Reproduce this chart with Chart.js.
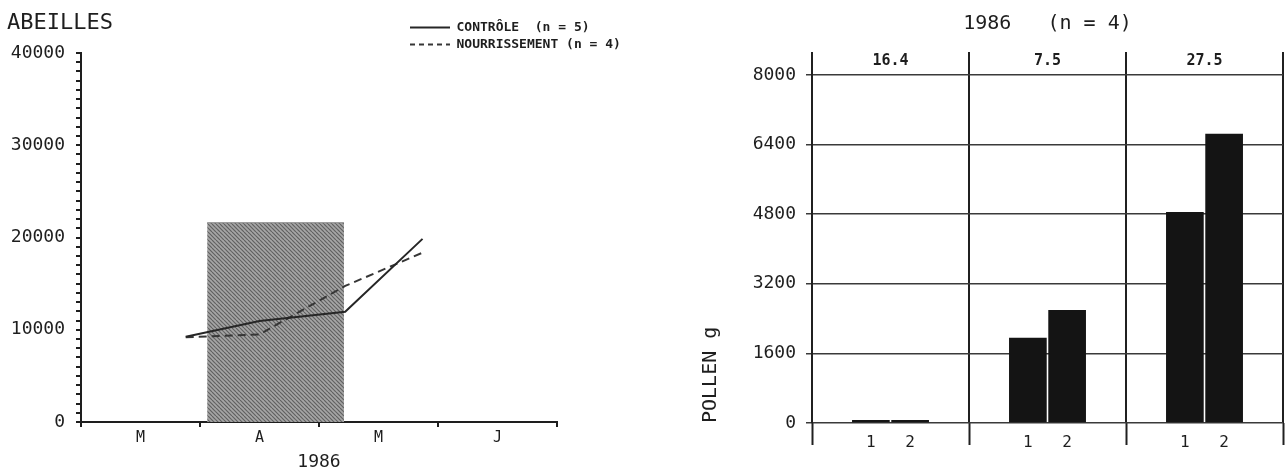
<!DOCTYPE html>
<html><head><meta charset="utf-8">
<script src="https://cdn.jsdelivr.net/npm/chart.js@4.4.1/dist/chart.umd.min.js"></script>
<style>
html,body{margin:0;padding:0;background:#fff;width:1286px;height:471px;overflow:hidden}
#wrap{position:relative;width:1286px;height:471px}
canvas{position:absolute}
#c1{left:0;top:0}
#c2{left:690px;top:0}
#leg{left:406px;top:17px}
</style></head><body>
<div id="wrap">
<canvas id="c1" width="650" height="471"></canvas>
<canvas id="c2" width="596" height="471"></canvas>
<canvas id="leg" width="240" height="44"></canvas>
</div>
<script>
// ---------- left chart : ABEILLES ----------
const monthLabels = ['M', 'A', 'M', 'J'];
const sampleMonths = [0.88, 1.5, 2.22, 2.87];        // months since 1 March
const controle = [9250, 10950, 11950, 19850];
const nourrissement = [9180, 9500, 14750, 18350];
const feedingPeriod = [1.06, 2.21];                  // start / end (months)
const feedingLevel = 21600;
const beeMajorTicks = [0, 10000, 20000, 30000, 40000];
const labelControle = 'CONTRÔLE  (n = 5)';
const labelNourr = 'NOURRISSEMENT (n = 4)';

// ---------- right chart : POLLEN ----------
const periodLabels = ['16.4', '7.5', '27.5'];
const pollen1 = [70, 1960, 4850];
const pollen2 = [70, 2600, 6650];
const barLabels = ['1', '2'];
const pollenTicks = [0, 1600, 3200, 4800, 6400, 8000];

const FONT = "'DejaVu Sans Mono', monospace";
const INK = '#1e1e1e';
Chart.defaults.font.family = FONT;
Chart.defaults.color = INK;

function hatch() {
  const c = document.createElement('canvas');
  c.width = 8; c.height = 8;
  const g = c.getContext('2d');
  g.fillStyle = '#a6a6a6'; g.fillRect(0, 0, 8, 8);
  g.strokeStyle = '#616161'; g.lineWidth = 1.2;
  for (let k = -8; k <= 8; k += 4) { g.beginPath(); g.moveTo(k, 0); g.lineTo(k + 8, 8); g.stroke(); }
  return g.createPattern(c, 'repeat');
}

const styleControle = { label: labelControle, borderColor: '#262626', borderWidth: 2 };
const styleNourr = { label: labelNourr, borderColor: '#363636', borderWidth: 2, borderDash: [8, 5] };
const pts = ys => ys.map((y, i) => ({ x: sampleMonths[i], y }));

new Chart(document.getElementById('c1'), {
  type: 'line',
  data: { datasets: [
    Object.assign({}, styleControle, { data: pts(controle), pointRadius: 0, fill: false, tension: 0 }),
    Object.assign({}, styleNourr, { data: pts(nourrissement), pointRadius: 0, fill: false, tension: 0 }),
    { label: 'periode', data: feedingPeriod.map(x => ({ x, y: feedingLevel })), borderColor: '#8a8a8a',
      borderWidth: 1, pointRadius: 0, fill: 'origin', backgroundColor: hatch() }
  ] },
  options: {
    responsive: false, animation: false, events: [],
    layout: { padding: { left: 7, right: 93, top: 0, bottom: 0 } },
    plugins: {
      legend: { display: false }, tooltip: { enabled: false },
      title: { display: true, text: 'ABEILLES', align: 'start', color: INK,
        font: { size: 22, weight: 'normal' }, padding: { top: 10, bottom: 16.6 } }
    },
    scales: {
      x: { type: 'linear', min: 0, max: 4, display: false },
      xm: { type: 'category', axis: 'x', position: 'bottom', labels: monthLabels, offset: true,
        grid: { offset: true, drawOnChartArea: false, tickLength: 5, color: INK, lineWidth: 2 },
        border: { display: true, color: INK, width: 2 },
        ticks: { font: { size: 15 }, padding: 2, color: INK, maxRotation: 0 },
        title: { display: true, text: '1986', color: INK, font: { size: 18, lineHeight: 1 }, padding: { top: 0, bottom: 0 } },
        afterFit: s => { s.height = 49; } },
      y: { min: 0, max: 40000,
        ticks: { stepSize: 1000, autoSkip: false, color: INK, font: { size: 18 }, padding: 11,
          callback: v => beeMajorTicks.includes(v) ? String(v) : '' },
        grid: { drawOnChartArea: false, tickLength: 5, color: INK, lineWidth: 2 },
        border: { color: INK, width: 2 },
        afterFit: s => { s.width = 74; } }
    }
  }
});

// legend (stacked, above the plot)
new Chart(document.getElementById('leg'), {
  type: 'line',
  data: { datasets: [ Object.assign({}, styleControle, { data: [] }), Object.assign({}, styleNourr, { data: [], borderDash: [5, 4] }) ] },
  options: {
    responsive: false, animation: false, events: [],
    layout: { padding: 0 },
    scales: { x: { display: false }, y: { display: false } },
    plugins: { tooltip: { enabled: false },
      legend: { position: 'chartArea', align: 'start',
        labels: { usePointStyle: true, pointStyleWidth: 40, padding: 4, color: INK,
          font: { size: 13, weight: 'bold' },
          generateLabels: ch => ch.data.datasets.map((ds, i) => ({
            text: ds.label, datasetIndex: i, pointStyle: 'line', fillStyle: 'rgba(0,0,0,0)',
            strokeStyle: ds.borderColor, lineWidth: ds.borderWidth, lineDash: ds.borderDash || [],
            fontColor: INK, hidden: false })) } } }
  }
});

// ---------- right chart ----------
const CAT_PCT = 0.5, BAR_PCT = 0.96;
const xbTicks = [], xbTickLabels = [];
periodLabels.forEach((_, i) => {
  xbTicks.push(i); xbTickLabels.push('');
  barLabels.forEach((lab, j) => { xbTicks.push(i + 0.5 + (j - 0.5) * CAT_PCT / 2); xbTickLabels.push(lab); });
});
xbTicks.push(periodLabels.length); xbTickLabels.push('');

new Chart(document.getElementById('c2'), {
  type: 'bar',
  data: { labels: periodLabels, datasets: [
    { label: barLabels[0], data: pollen1, backgroundColor: '#141414', categoryPercentage: CAT_PCT, barPercentage: BAR_PCT },
    { label: barLabels[1], data: pollen2, backgroundColor: '#141414', categoryPercentage: CAT_PCT, barPercentage: BAR_PCT }
  ] },
  options: {
    responsive: false, animation: false, events: [],
    layout: { padding: { left: 0, right: 3, top: 0, bottom: 0 } },
    plugins: {
      legend: { display: false }, tooltip: { enabled: false },
      title: { display: true, text: '1986   (n = 4)', fullSize: false, color: INK,
        font: { size: 20, weight: 'normal' }, padding: { top: 12, bottom: 16 } }
    },
    scales: {
      x: { type: 'category', position: 'top', offset: true,
        grid: { offset: true, drawOnChartArea: true, drawTicks: true, tickLength: 23, color: '#202020', lineWidth: 2 },
        border: { display: false },
        ticks: { font: { size: 15, weight: 'bold' }, padding: -18, color: INK, maxRotation: 0 },
        afterFit: s => { s.height = 23; } },
      xb: { type: 'linear', axis: 'x', position: 'bottom', min: 0, max: periodLabels.length, offset: false,
        grid: { display: true, offset: false, drawOnChartArea: false, drawTicks: true, tickLength: 22, tickWidth: 2,
          tickColor: c => xbTickLabels[c.index] === '' ? '#202020' : 'rgba(0,0,0,0)' },
        border: { display: false },
        afterBuildTicks: s => { s.ticks = xbTicks.map(v => ({ value: v })); },
        ticks: { autoSkip: false, maxRotation: 0, color: INK, font: { size: 16 }, padding: -11.6,
          callback: (v, i) => xbTickLabels[i] },
        afterFit: s => { s.height = 48; } },
      y: { min: 0, max: 8000,
        afterBuildTicks: s => { s.ticks = pollenTicks.map(v => ({ value: v })); },
        ticks: { autoSkip: false, color: INK, font: { size: 18 }, padding: 10, callback: v => String(v) },
        grid: { color: '#3a3a3a', lineWidth: 1.5, tickLength: 6 },
        border: { display: true, color: '#202020', width: 2 },
        title: { display: true, text: 'POLLEN g', align: 'start', color: INK, font: { size: 20 }, padding: { top: 9, bottom: 0 } },
        afterFit: s => { s.width = 122; } }
    }
  }
});
</script>
</body></html>
